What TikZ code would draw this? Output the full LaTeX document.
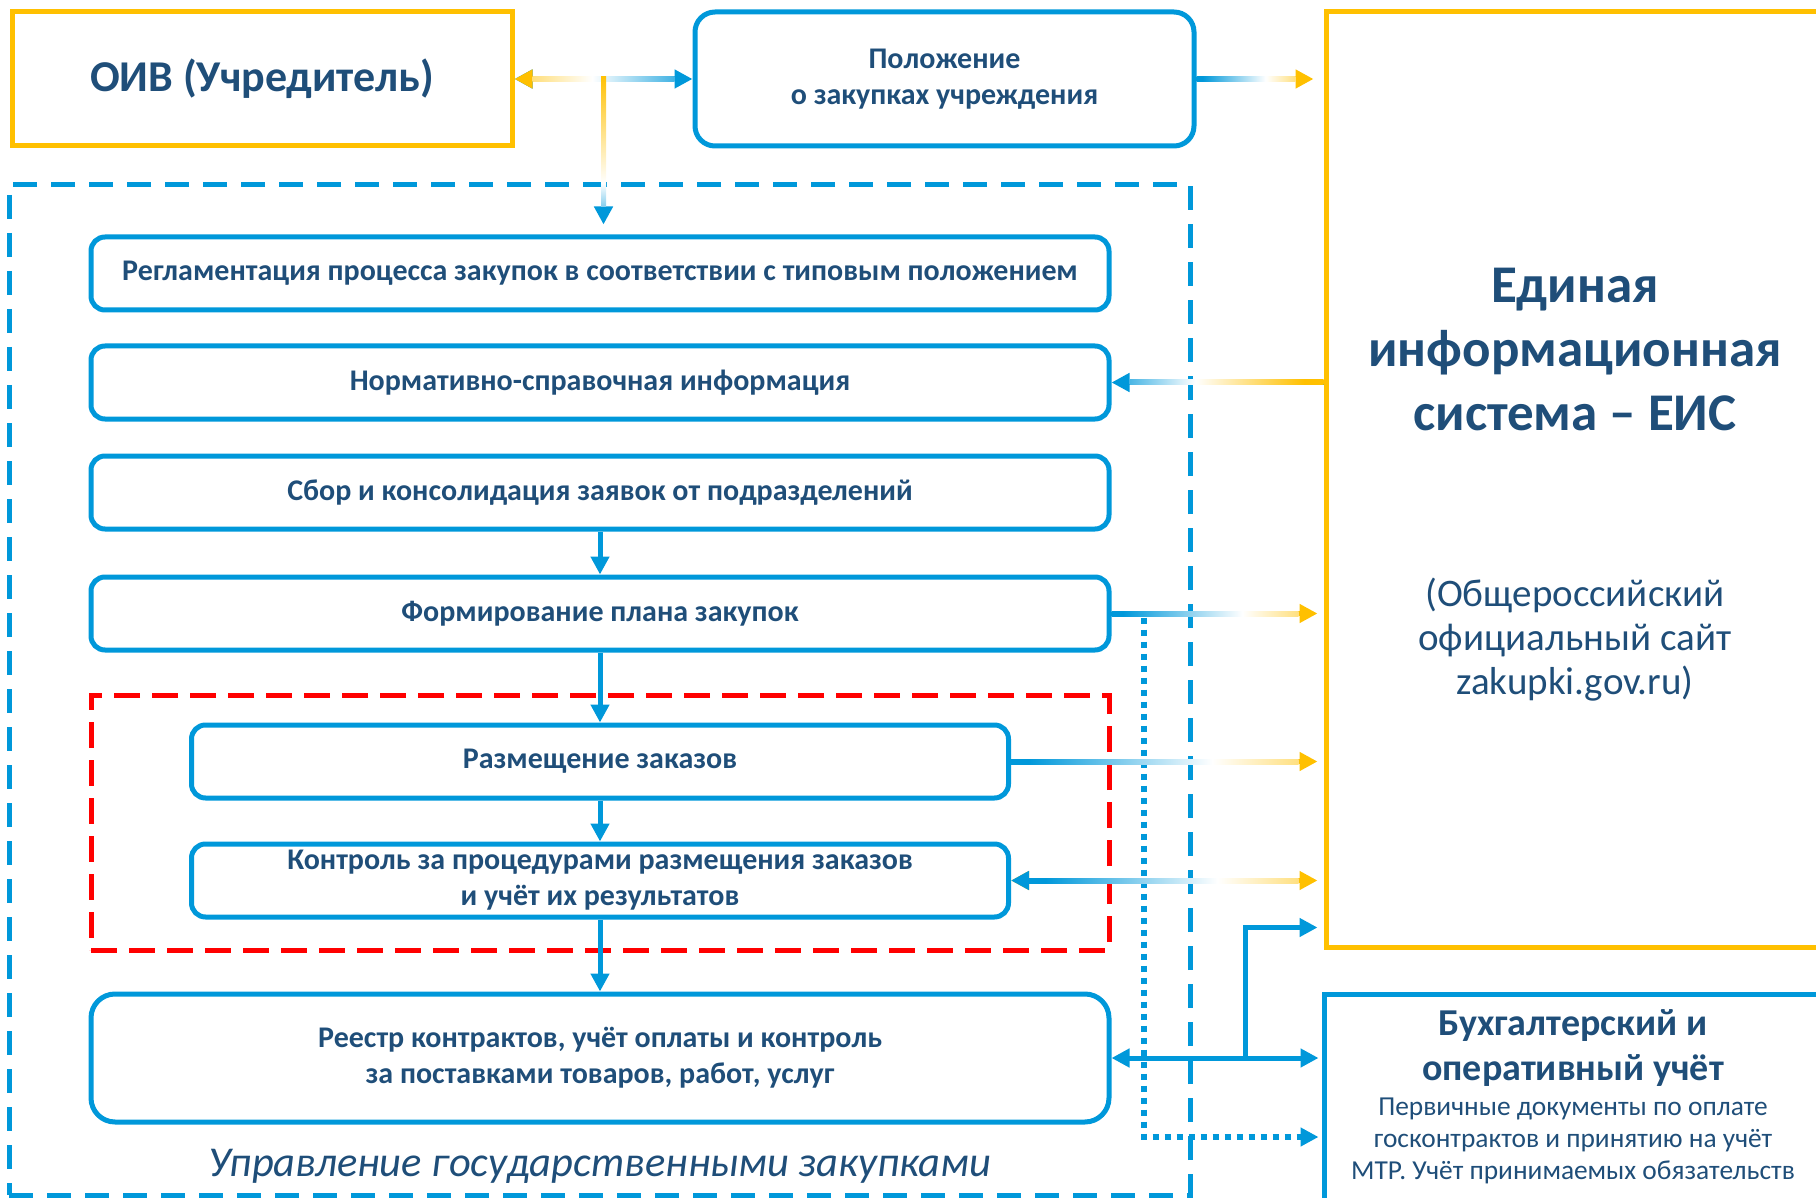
\documentclass[tikz,border=0pt]{standalone}
\usepackage{fontspec}
\setmainfont{Carlito}
\usepackage{tikz}
\usetikzlibrary{positioning,calc,arrows.meta}
\usepackage{xcolor}
\definecolor{eisblue}{RGB}{0,152,218}
\definecolor{eisyellow}{RGB}{255,192,0}
\definecolor{eistext}{RGB}{31,78,121}
\definecolor{eisred}{RGB}{255,0,0}
\pgfdeclarehorizontalshading{blueyellow}{100bp}{color(0bp)=(eisblue); color(28bp)=(eisblue); color(60bp)=(white); color(90bp)=(eisyellow); color(100bp)=(eisyellow)}
\pgfdeclarehorizontalshading{yellowback}{100bp}{color(0bp)=(eisblue); color(18bp)=(eisblue); color(42bp)=(white); color(70bp)=(eisyellow); color(100bp)=(eisyellow)}
\pgfdeclarehorizontalshading{yellowblue}{100bp}{color(0bp)=(eisyellow); color(5bp)=(eisyellow); color(46bp)=(white); color(85bp)=(eisblue); color(100bp)=(eisblue)}
\pgfdeclareverticalshading{yellowdown}{100bp}{color(0bp)=(eisblue); color(15bp)=(eisblue); color(34bp)=(white); color(76bp)=(eisyellow); color(100bp)=(eisyellow)}

\begin{document}
\begin{tikzpicture}[x=1pt,y=-1pt,>={Triangle[length=18pt,width=18pt]},
blue box/.style={rectangle,draw=eisblue,line width=5pt,rounded corners=14pt,align=center,text=eistext,font=\fontsize{30}{36}\selectfont\bfseries,minimum width=1018pt,minimum height=73pt},
yellow box/.style={rectangle,draw=eisyellow,line width=5pt,align=center,text=eistext},
frame box/.style={rectangle,draw=eisblue,line width=5pt,dash pattern=on 24pt off 14pt},
red box/.style={rectangle,draw=eisred,line width=5pt,dash pattern=on 26pt off 12pt},
blue line/.style={draw=eisblue,line width=5pt},
yellow line/.style={draw=eisyellow,line width=5pt},
dot line/.style={draw=eisblue,line width=6pt,dash pattern=on 6pt off 6pt},
text node/.style={text=eistext,align=center,inner sep=0pt}]
\useasboundingbox (0,0) rectangle (1816,1198);
% top row
  \node[yellow box,minimum width=500pt,minimum height=134pt,font=\fontsize{44}{52}\selectfont\bfseries] (oiv) at (262,79) {ОИВ (Учредитель)};
  \node[blue box,rounded corners=20pt,minimum width=499pt,minimum height=134pt,right=178pt of oiv] (pol) {Положение\\о закупках учреждения};
  \node[yellow box,minimum width=504pt,minimum height=935pt] (eis) at (1578,479.5) {};
  \node[text node,font=\fontsize{53}{64}\selectfont\bfseries] (eistitle) at (1575,350) {Единая\\информационная\\система – ЕИС};
  \node[text node,font=\fontsize{39}{44}\selectfont] (eissub) at (1575,640) {(Общероссийский\\официальный сайт\\zakupki.gov.ru)};
% frames
  \node[frame box,minimum width=1181pt,minimum height=1010pt] (upr) at (599.5,690) {};
  \node[text node,font=\fontsize{42.5}{50}\selectfont\itshape] (uprtext) at (600,1166) {Управление государственными закупками};
  \node[red box,minimum width=1018pt,minimum height=255pt] (zakaz) at (600,822.5) {};
% process boxes
  \node[blue box] (reg) at (600,273.5) {Регламентация процесса закупок в соответствии с типовым положением};
  \node[blue box] (norm) [below=31pt of reg] {Нормативно-справочная информация};
  \node[blue box] (sbor) [below=32pt of norm] {Сбор и консолидация заявок от подразделений};
  \node[blue box] (form) [below=43pt of sbor] {Формирование плана закупок};
  \node[blue box,minimum width=817pt] (razm) [below=70pt of form] {Размещение заказов};
  \node[blue box,minimum width=817pt] (kontr) [below=41pt of razm] {Контроль за процедурами размещения заказов\\и учёт их результатов};
  \node[blue box,rounded corners=24pt,minimum height=128pt] (reestr) [below=72pt of kontr] {Реестр контрактов, учёт оплаты и контроль\\за поставками товаров, работ, услуг};
  \node[blue box,rounded corners=0pt,minimum width=506pt,minimum height=246pt] (buh) at (1577,1117) {};
  \node[text node,font=\fontsize{38}{45}\selectfont\bfseries] (buhtitle) at (1573,1048) {Бухгалтерский и\\оперативный учёт};
  \node[text node,font=\fontsize{27.4}{32}\selectfont] (buhsub) at (1573,1141) {Первичные документы по оплате\\госконтрактов и принятию на учёт\\МТР. Учёт принимаемых обязательств};
% edges
  \coordinate (oivjoin) at ($(oiv.east)!0.5!(pol.west)$);
  \draw[blue line,<->] (oiv.east) -- (pol.west);
  \draw[yellow line,<-] (oiv.east) -- ++(20,0);
  \shade[shading=yellowblue] ($(oiv.east)+(18,-2.5)$) rectangle ($(pol.west)+(-18,2.5)$);
  \draw[blue line,->,shorten >=10pt] (oivjoin) -- (oivjoin |- reg.north);
  \shade[shading=yellowdown] ($(oivjoin)+(-2.5,-2.5)$) rectangle ($(oivjoin |- reg.north)+(2.5,-28)$);
  \draw[yellow line,->,shorten >=10pt] (pol.east) -- (pol.east -| eis.west);
  \shade[shading=blueyellow] ($(pol.east)+(0,-2.5)$) rectangle ($(pol.east -| eis.west)+(-28,2.5)$);
  \draw[blue line,<-] (norm.east) -- (norm.east -| eis.west);
  \shade[shading=yellowback] ($(norm.east)+(18,-2.5)$) rectangle ($(norm.east -| eis.west)+(0,2.5)$);
  \coordinate (dotfork) at ($(form.east)+(32.5,4)$);
  \draw[dot line,->,shorten >=3pt] (dotfork) |- ([yshift=-20pt]buh.west);
  \draw[yellow line,->,shorten >=6pt] (form.east) -- (form.east -| eis.west);
  \shade[shading=blueyellow] ($(form.east)+(0,-2.5)$) rectangle ($(form.east -| eis.west)+(-25,2.5)$);
  \draw[yellow line,->,shorten >=6pt] (razm.east) -- (razm.east -| eis.west);
  \shade[shading=blueyellow] ($(razm.east)+(0,-2.5)$) rectangle ($(razm.east -| eis.west)+(-25,2.5)$);
  \draw[yellow line,<->,shorten >=6pt] (kontr.east) -- (kontr.east -| eis.west);
  \draw[blue line,<-] (kontr.east) -- ++(20,0);
  \shade[shading=blueyellow] ($(kontr.east)+(18,-2.5)$) rectangle ($(kontr.east -| eis.west)+(-25,2.5)$);
  \draw[blue line,->] (sbor) -- (form);
  \draw[blue line,->] (form) -- (razm);
  \draw[blue line,->] (razm) -- (kontr);
  \draw[blue line,->] (kontr) -- (reestr);
  \coordinate (buhfork) at ($(reestr.east -| buh.west)+(-76,0)$);
  \draw[blue line,<->,shorten >=3pt] (reestr.east) -- (reestr.east -| buh.west);
  \draw[blue line,->,shorten >=6pt] (buhfork) |- ([yshift=22pt]eis.south west);
\end{tikzpicture}
\end{document}
